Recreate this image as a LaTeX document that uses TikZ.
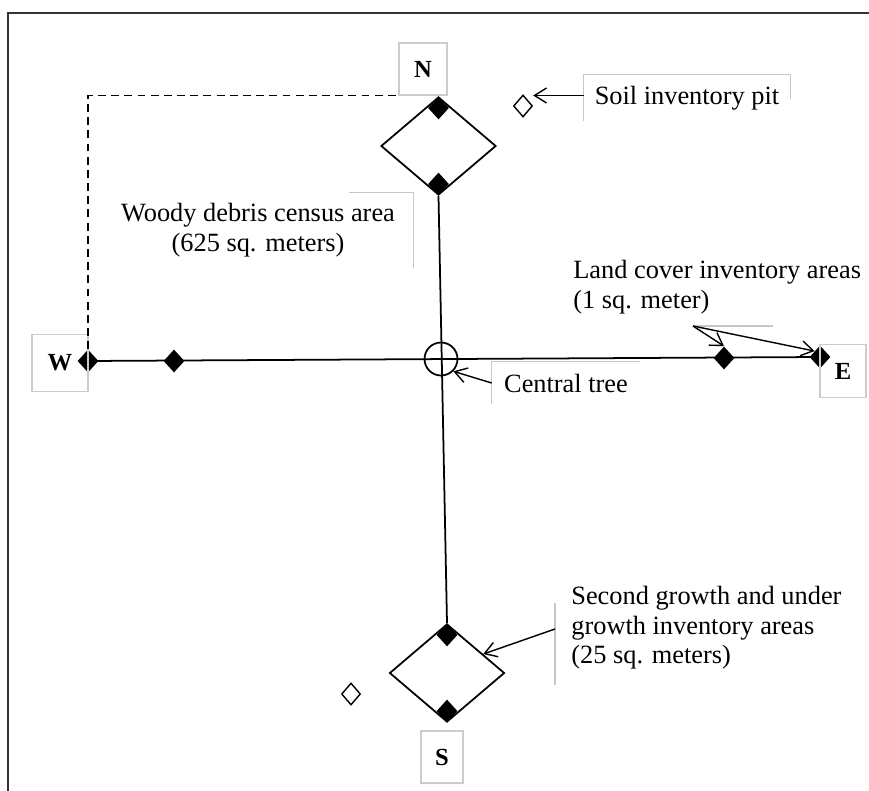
\documentclass[tikz,border=0pt]{standalone}
\usepackage{fontspec}
\setmainfont{Liberation Serif}
\usetikzlibrary{shapes.geometric}
\usetikzlibrary{arrows.meta}
\usetikzlibrary{calc}
\tikzset{
    plot/.style={draw, diamond, inner sep=0pt, line width=1pt, minimum width=23mm, minimum height=19.6mm},
    plotpt/.style={diamond, fill=black, inner sep=0pt, minimum width=4.2mm, minimum height=4.6mm},
    pitpt/.style={draw, diamond, inner sep=0pt, line width=0.8pt, minimum width=3.8mm, minimum height=4.4mm},
    dirbox/.style={draw=black!20, line width=0.6pt, inner sep=0pt, font=\fontsize{14}{16}\bfseries},
    lbl/.style={inner sep=0pt, font=\fontsize{15}{16.8}\selectfont},
    faint/.style={draw=black!22, line width=0.6pt},
    callout/.style={-{Straight Barb[length=2.4mm,width=3mm]}, line width=0.8pt},
    dashline/.style={line width=0.9pt, dash pattern=on 4.5pt off 3pt}
}

\begin{document}
\begin{tikzpicture}[x=0.2mm, y=-0.2mm]
    \useasboundingbox (0,0) rectangle (869,791);
	% frame
	\draw[line width=1.2pt, black!80] (8,791) -- (8,13) -- (869,13);

	% N and S plots
	\node[plot] (nplot) at (438.5,146) {};
	\node[plot] (splot) at (447,673) {};
	\node[plotpt, anchor=north] (nup) at (nplot.north) {};
	\node[plotpt, anchor=south] (nlow) at (nplot.south) {};
	\node[plotpt, anchor=north] (sup) at (splot.north) {};
	\node[plotpt, anchor=south] (slow) at (splot.south) {};

	% W - E transect
	\node[plotpt] (wpt) at (88,361) {};
	\node[plotpt] (wpt2) at (174,361) {};
	\node[plotpt] (ept2) at (724,358) {};
	\node[plotpt] (ept) at (820,357) {};
	\draw[line width=1pt] (wpt.center) -- (ept.center);
	\draw[line width=1pt] (nplot.south) -- (splot.north);
	\node[circle, draw, line width=1pt, minimum size=6.6mm, inner sep=0pt] (tree) at (441,359) {};

	% direction boxes
	\node[dirbox, minimum width=9.6mm, minimum height=10.4mm] (nbox) at (423,69) {N};
	\node[dirbox, minimum width=11.2mm, minimum height=11.4mm] (wbox) at (60,363) {W};
	\node[dirbox, minimum width=9.2mm, minimum height=10.6mm] (ebox) at (843,371) {E};
	\node[dirbox, minimum width=8.4mm, minimum height=10.4mm] (sbox) at (442,757) {S};
	\draw[dashline] (wpt.north) |- (nbox.south west);

	% soil pits
	\node[pitpt] (npit) at (523,106) {};
	\node[pitpt] (spit) at (351,694) {};

	% labels
	\node[lbl, minimum width=41.2mm, minimum height=9.2mm] (soil) at (687,98) {Soil inventory pit};
	\draw[faint] (soil.south west) |- (soil.north east) -- ++(0,24);
	\draw[callout] ([yshift=0.5mm]soil.west) -- ([yshift=0.5mm]soil.west -| npit.east);

	\node[lbl, align=center, minimum width=62mm, minimum height=15mm] (woody) at (258,230) {Woody debris census area\\(625 sq. meters)};
	\draw[faint] ([xshift=-12.8mm]woody.north east) -- (woody.north east) -- (woody.south east);

	\node[lbl, minimum width=29.6mm, minimum height=8.4mm] (ctree) at (566,383) {Central tree};
	\draw[faint] (ctree.south west) |- (ctree.north east);
	\draw[callout] (ctree.west) -- (tree.south east);

	\node[lbl, align=left, anchor=north west] (land) at (573,260) {Land cover inventory areas\\(1 sq. meter)};
	\coordinate (lcfork) at (693,326);
	\draw[faint] (lcfork) -- (773,326);
	\draw[callout] (lcfork) -- (ept2.north);
	\draw[callout] (lcfork) -- (ept.north west);

	\node[lbl, align=left, anchor=north west] (sgrow) at (571,586) {Second growth and under\\growth inventory areas\\(25 sq. meters)};
	\coordinate (sgfoot) at (555,629);
	\draw[faint] (555,603) -- (555,685);
	\draw[callout] (sgfoot) -- ($(splot.north)!0.62!(splot.east)$);
\end{tikzpicture}
\end{document}
